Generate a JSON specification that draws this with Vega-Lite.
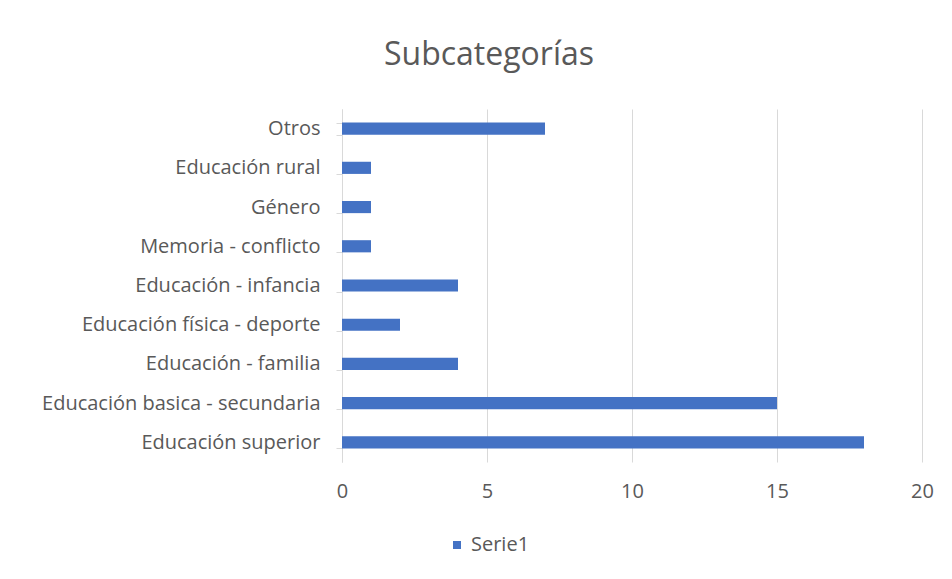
{
  "$schema": "https://vega.github.io/schema/vega-lite/v6.json",
  "width": 580,
  "height": 353,
  "autosize": {"type": "none"},
  "padding": {"left": 342, "top": 109, "right": 30, "bottom": 117},
  "background": "white",
  "title": {
    "text": "Subcategorías",
    "anchor": "middle",
    "frame": "group",
    "dx": -143,
    "offset": 27,
    "font": "Open Sans",
    "fontSize": 32,
    "fontWeight": "normal",
    "color": "#595959"
  },
  "data": {
    "values": [
      {"subcategoria": "Otros\u00a0", "valor": 7, "serie": "Serie1"},
      {"subcategoria": "Educación rural\u00a0", "valor": 1, "serie": "Serie1"},
      {"subcategoria": "Género", "valor": 1, "serie": "Serie1"},
      {"subcategoria": "Memoria - conflicto", "valor": 1, "serie": "Serie1"},
      {"subcategoria": "Educación - infancia", "valor": 4, "serie": "Serie1"},
      {"subcategoria": "Educación física - deporte", "valor": 2, "serie": "Serie1"},
      {"subcategoria": "Educación - familia\u00a0", "valor": 4, "serie": "Serie1"},
      {"subcategoria": "Educación basica - secundaria\u00a0", "valor": 15, "serie": "Serie1"},
      {"subcategoria": "Educación superior", "valor": 18, "serie": "Serie1"}
    ]
  },
  "mark": {"type": "bar"},
  "encoding": {
    "y": {
      "field": "subcategoria",
      "type": "nominal",
      "sort": null,
      "scale": {"paddingInner": 0.69, "paddingOuter": 0.345},
      "axis": {
        "title": null,
        "tickBand": "extent",
        "domainColor": "#d9d9d9",
        "tickColor": "#d9d9d9",
        "tickSize": 6,
        "labelFont": "Open Sans",
        "labelFontSize": 20,
        "labelColor": "#595959",
        "labelPadding": 16,
        "labelLimit": 400,
        "grid": false
      }
    },
    "x": {
      "field": "valor",
      "type": "quantitative",
      "scale": {"domain": [0, 20]},
      "axis": {
        "title": null,
        "values": [0, 5, 10, 15, 20],
        "domain": false,
        "ticks": false,
        "grid": true,
        "gridColor": "#d9d9d9",
        "labelFlush": false,
        "labelFont": "Open Sans",
        "labelFontSize": 20,
        "labelColor": "#595959",
        "labelPadding": 19
      }
    },
    "color": {
      "field": "serie",
      "type": "nominal",
      "scale": {"range": ["#4472C4"]},
      "legend": {
        "title": null,
        "orient": "none",
        "legendX": 105,
        "legendY": 426,
        "symbolType": "square",
        "symbolSize": 64,
        "labelFont": "Open Sans",
        "labelFontSize": 20,
        "labelColor": "#595959"
      }
    }
  },
  "config": {
    "view": {"stroke": null}
  }
}
